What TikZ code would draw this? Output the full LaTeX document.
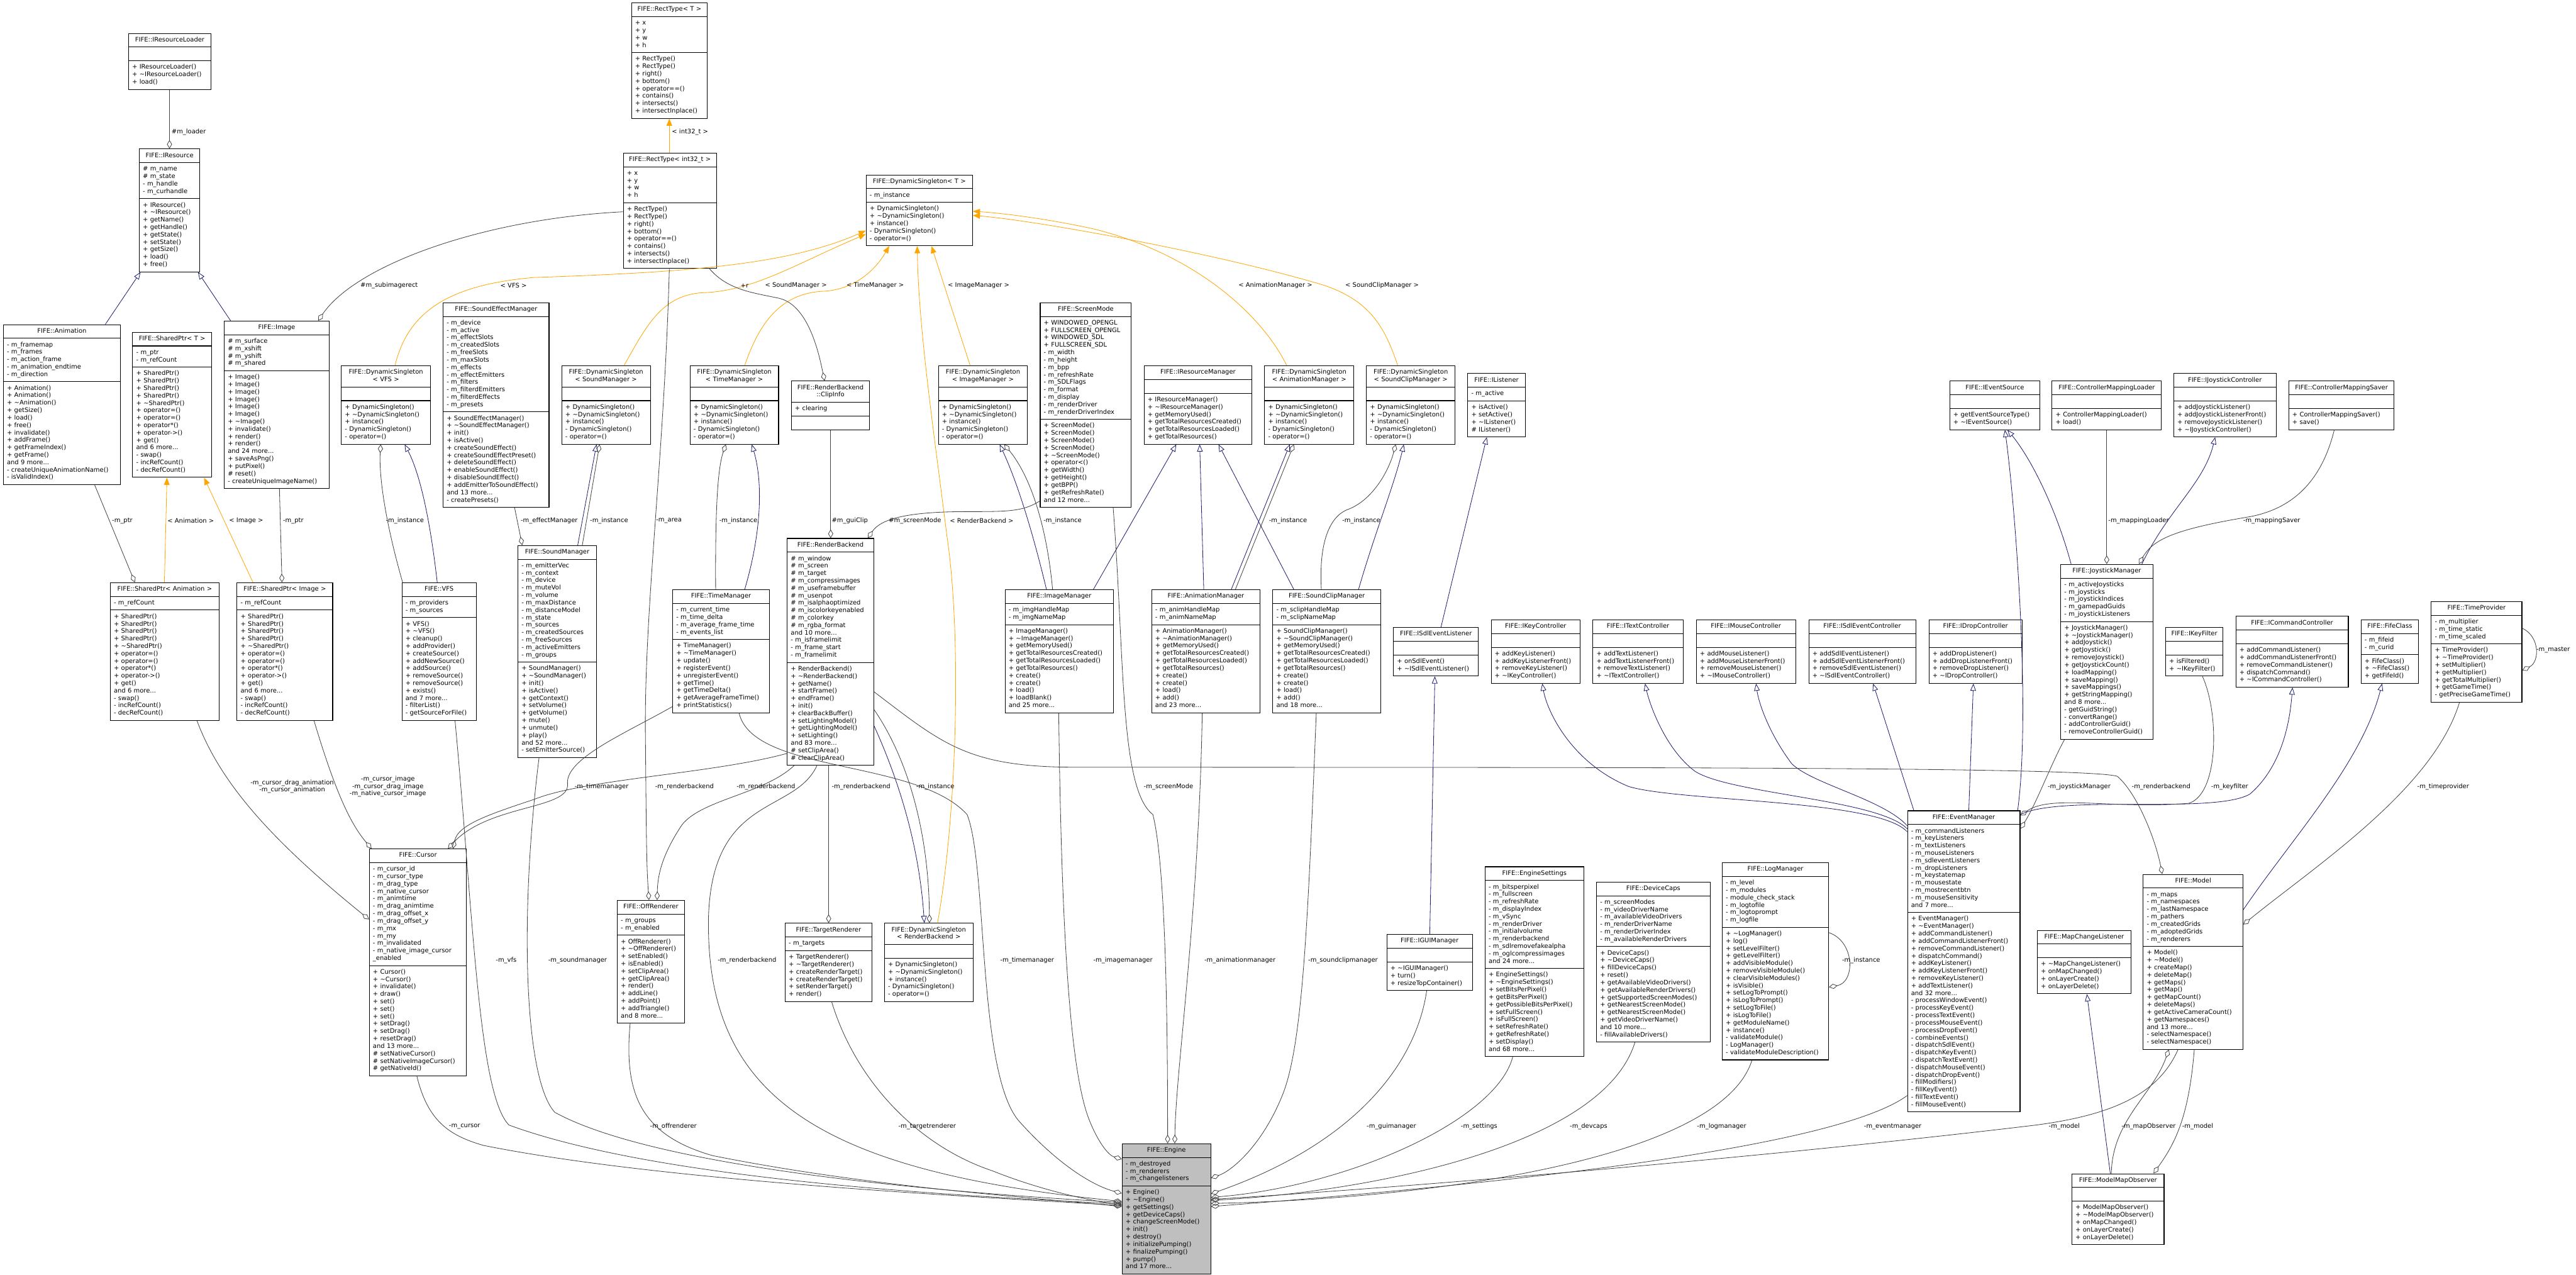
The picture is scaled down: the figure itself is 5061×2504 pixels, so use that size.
\documentclass[tikz,border=0pt]{standalone}
\usepackage{fontspec}
\setmainfont{DejaVu Sans}
\usetikzlibrary{arrows.meta,shapes.multipart}
\definecolor{inhblue}{HTML}{191970}
\definecolor{tplorange}{HTML}{FFA500}
\definecolor{memgray}{HTML}{404040}
\definecolor{enginegray}{HTML}{BFBFBF}
\newcommand{\umlfont}{\fontsize{12.3}{14.6}\selectfont}
\newcommand{\dtor}{\textasciitilde}
\newcommand{\umlparts}[3]{{\centering\strut#1\strut\par}\nodepart{second}\strut#2\strut\nodepart{third}\strut#3\strut}
\newcommand{\dsops}{+ DynamicSingleton()\\+ \dtor DynamicSingleton()\\+ instance()\\- DynamicSingleton()\\- operator=()}

\begin{document}
\begin{tikzpicture}[x=1pt, y=-1pt,
	umlclass/.style={draw=black, line width=1.3pt, fill=white, rectangle split, rectangle split parts=3, anchor=north west, inner xsep=7pt, inner ysep=5.5pt, align=left, font=\umlfont},
	inh/.style={draw=inhblue, line width=1pt, -{Triangle[open, length=14pt, width=11pt]}},
	tmpl/.style={draw=tplorange, line width=1pt, -{Triangle[length=14pt, width=11pt]}},
	mem/.style={draw=memgray, line width=1pt, -{Diamond[open, length=17pt, width=10pt]}},
	lbl/.style={font=\umlfont, inner sep=0pt, anchor=west}]
	\fill[white] (0,0) rectangle (5061,2504);
	\useasboundingbox (0,0) rectangle (5061,2504);
	% classes
	\node[umlclass, text width=148pt] (irl) at (252,65) {\umlparts{FIFE::IResourceLoader}{}{+ IResourceLoader()\\+ \dtor IResourceLoader()\\+ load()}};
	\node[umlclass, text width=105pt] (ires) at (273,292) {\umlparts{FIFE::IResource}{\# m\_name\\\# m\_state\\- m\_handle\\- m\_curhandle}{+ IResource()\\+ \dtor IResource()\\+ getName()\\+ getHandle()\\+ getState()\\+ setState()\\+ getSize()\\+ load()\\+ free()}};
	\node[umlclass, text width=135pt] (rectT) at (1240,5) {\umlparts{FIFE::RectType< T >}{+ x\\+ y\\+ w\\+ h}{+ RectType()\\+ RectType()\\+ right()\\+ bottom()\\+ operator==()\\+ contains()\\+ intersects()\\+ intersectInplace()}};
	\node[umlclass, text width=169pt] (rect32) at (1224,300) {\umlparts{FIFE::RectType< int32\_t >}{+ x\\+ y\\+ w\\+ h}{+ RectType()\\+ RectType()\\+ right()\\+ bottom()\\+ operator==()\\+ contains()\\+ intersects()\\+ intersectInplace()}};
	\node[umlclass, text width=195pt] (dsT) at (1701,343) {\umlparts{FIFE::DynamicSingleton< T >}{- m\_instance}{\dsops}};
	\node[umlclass, text width=216pt] (anim) at (6,637) {\umlparts{FIFE::Animation}{- m\_framemap\\- m\_frames\\- m\_action\_frame\\- m\_animation\_endtime\\- m\_direction}{+ Animation()\\+ Animation()\\+ \dtor Animation()\\+ getSize()\\+ load()\\+ free()\\+ invalidate()\\+ addFrame()\\+ getFrameIndex()\\+ getFrame()\\and 9 more...\\- createUniqueAnimationName()\\- isValidIndex()}};
	\node[umlclass, text width=141pt] (sptrT) at (260,652) {\umlparts{FIFE::SharedPtr< T >}{- m\_ptr\\- m\_refCount}{+ SharedPtr()\\+ SharedPtr()\\+ SharedPtr()\\+ SharedPtr()\\+ \dtor SharedPtr()\\+ operator=()\\+ operator=()\\+ operator*()\\+ operator->()\\+ get()\\and 6 more...\\- swap()\\- incRefCount()\\- decRefCount()}};
	\node[umlclass, text width=192pt] (image) at (440,630) {\umlparts{FIFE::Image}{\# m\_surface\\\# m\_xshift\\\# m\_yshift\\\# m\_shared}{+ Image()\\+ Image()\\+ Image()\\+ Image()\\+ Image()\\+ Image()\\+ \dtor Image()\\+ invalidate()\\+ render()\\+ render()\\and 24 more...\\+ saveAsPng()\\+ putPixel()\\\# reset()\\- createUniqueImageName()}};
	\node[umlclass, text width=161pt] (dsVFS) at (670,718) {\umlparts{FIFE::DynamicSingleton\\< VFS >}{}{\dsops}};
	\node[umlclass, text width=194pt] (sem) at (870,594) {\umlparts{FIFE::SoundEffectManager}{- m\_device\\- m\_active\\- m\_effectSlots\\- m\_createdSlots\\- m\_freeSlots\\- m\_maxSlots\\- m\_effects\\- m\_effectEmitters\\- m\_filters\\- m\_filterdEmitters\\- m\_filterdEffects\\- m\_presets}{+ SoundEffectManager()\\+ \dtor SoundEffectManager()\\+ init()\\+ isActive()\\+ createSoundEffect()\\+ createSoundEffectPreset()\\+ deleteSoundEffect()\\+ enableSoundEffect()\\+ disableSoundEffect()\\+ addEmitterToSoundEffect()\\and 13 more...\\- createPresets()}};
	\node[umlclass, text width=160pt] (dsSound) at (1103,718) {\umlparts{FIFE::DynamicSingleton\\< SoundManager >}{}{\dsops}};
	\node[umlclass, text width=160pt] (dsTime) at (1355,718) {\umlparts{FIFE::DynamicSingleton\\< TimeManager >}{}{\dsops}};
	\node[umlclass, text width=140pt] (clip) at (1554,748) {\umlparts{FIFE::RenderBackend\\::ClipInfo}{+ clearing}{}};
	\node[umlclass, text width=161pt] (dsImage) at (1843,718) {\umlparts{FIFE::DynamicSingleton\\< ImageManager >}{}{\dsops}};
	\node[umlclass, text width=165pt] (scrmode) at (2043,594) {\umlparts{FIFE::ScreenMode}{+ WINDOWED\_OPENGL\\+ FULLSCREEN\_OPENGL\\+ WINDOWED\_SDL\\+ FULLSCREEN\_SDL\\- m\_width\\- m\_height\\- m\_bpp\\- m\_refreshRate\\- m\_SDLFlags\\- m\_format\\- m\_display\\- m\_renderDriver\\- m\_renderDriverIndex}{+ ScreenMode()\\+ ScreenMode()\\+ ScreenMode()\\+ ScreenMode()\\+ \dtor ScreenMode()\\+ operator<()\\+ getWidth()\\+ getHeight()\\+ getBPP()\\+ getRefreshRate()\\and 12 more...}};
	\node[umlclass, text width=198pt] (irm) at (2247,718) {\umlparts{FIFE::IResourceManager}{}{+ IResourceManager()\\+ \dtor IResourceManager()\\+ getMemoryUsed()\\+ getTotalResourcesCreated()\\+ getTotalResourcesLoaded()\\+ getTotalResources()}};
	\node[umlclass, text width=161pt] (dsAnim) at (2484,718) {\umlparts{FIFE::DynamicSingleton\\< AnimationManager >}{}{\dsops}};
	\node[umlclass, text width=160pt] (dsClip) at (2684,718) {\umlparts{FIFE::DynamicSingleton\\< SoundClipManager >}{}{\dsops}};
	\node[umlclass, text width=99pt] (ilisten) at (2883,733) {\umlparts{FIFE::IListener}{- m\_active}{+ isActive()\\+ setActive()\\+ \dtor IListener()\\\# IListener()}};
	\node[umlclass, text width=163pt] (ievsrc) at (3830,748) {\umlparts{FIFE::IEventSource}{}{+ getEventSourceType()\\+ \dtor IEventSource()}};
	\node[umlclass, text width=201pt] (cmload) at (4031,748) {\umlparts{FIFE::ControllerMappingLoader}{}{+ ControllerMappingLoader()\\+ load()}};
	\node[umlclass, text width=187pt] (ijoy) at (4270,733) {\umlparts{FIFE::IJoystickController}{}{+ addJoystickListener()\\+ addJoystickListenerFront()\\+ removeJoystickListener()\\+ \dtor IJoystickController()}};
	\node[umlclass, text width=193pt] (cmsave) at (4496,748) {\umlparts{FIFE::ControllerMappingSaver}{}{+ ControllerMappingSaver()\\+ save()}};
	\node[umlclass, text width=200pt] (sptrAnim) at (216,1144) {\umlparts{FIFE::SharedPtr< Animation >}{- m\_refCount}{+ SharedPtr()\\+ SharedPtr()\\+ SharedPtr()\\+ SharedPtr()\\+ \dtor SharedPtr()\\+ operator=()\\+ operator=()\\+ operator*()\\+ operator->()\\+ get()\\and 6 more...\\- swap()\\- incRefCount()\\- decRefCount()}};
	\node[umlclass, text width=174pt] (sptrImg) at (465,1144) {\umlparts{FIFE::SharedPtr< Image >}{- m\_refCount}{+ SharedPtr()\\+ SharedPtr()\\+ SharedPtr()\\+ SharedPtr()\\+ \dtor SharedPtr()\\+ operator=()\\+ operator=()\\+ operator*()\\+ operator->()\\+ get()\\and 6 more...\\- swap()\\- incRefCount()\\- decRefCount()}};
	\node[umlclass, text width=132pt] (vfs) at (789,1144) {\umlparts{FIFE::VFS}{- m\_providers\\- m\_sources}{+ VFS()\\+ \dtor VFS()\\+ cleanup()\\+ addProvider()\\+ createSource()\\+ addNewSource()\\+ addSource()\\+ removeSource()\\+ removeSource()\\+ exists()\\and 7 more...\\- filterList()\\- getSourceForFile()}};
	\node[umlclass, text width=140pt] (soundmgr) at (1017,1071) {\umlparts{FIFE::SoundManager}{- m\_emitterVec\\- m\_context\\- m\_device\\- m\_muteVol\\- m\_volume\\- m\_maxDistance\\- m\_distanceModel\\- m\_state\\- m\_sources\\- m\_createdSources\\- m\_freeSources\\- m\_activeEmitters\\- m\_groups}{+ SoundManager()\\+ \dtor SoundManager()\\+ init()\\+ isActive()\\+ getContext()\\+ setVolume()\\+ getVolume()\\+ mute()\\+ unmute()\\+ play()\\and 52 more...\\- setEmitterSource()}};
	\node[umlclass, text width=176pt] (timemgr) at (1321,1158) {\umlparts{FIFE::TimeManager}{- m\_current\_time\\- m\_time\_delta\\- m\_average\_frame\_time\\- m\_events\_list}{+ TimeManager()\\+ \dtor TimeManager()\\+ update()\\+ registerEvent()\\+ unregisterEvent()\\+ getTime()\\+ getTimeDelta()\\+ getAverageFrameTime()\\+ printStatistics()}};
	\node[umlclass, text width=156pt] (rback) at (1546,1057) {\umlparts{FIFE::RenderBackend}{\# m\_window\\\# m\_screen\\\# m\_target\\\# m\_compressimages\\\# m\_useframebuffer\\\# m\_usenpot\\\# m\_isalphaoptimized\\\# m\_iscolorkeyenabled\\\# m\_colorkey\\\# m\_rgba\_format\\and 10 more...\\- m\_isframelimit\\- m\_frame\_start\\- m\_framelimit}{+ RenderBackend()\\+ \dtor RenderBackend()\\+ getName()\\+ startFrame()\\+ endFrame()\\+ init()\\+ clearBackBuffer()\\+ setLightingModel()\\+ getLightingModel()\\+ setLighting()\\and 83 more...\\\# setClipArea()\\\# clearClipArea()}};
	\node[umlclass, text width=199pt] (imgmgr) at (1974,1158) {\umlparts{FIFE::ImageManager}{- m\_imgHandleMap\\- m\_imgNameMap}{+ ImageManager()\\+ \dtor ImageManager()\\+ getMemoryUsed()\\+ getTotalResourcesCreated()\\+ getTotalResourcesLoaded()\\+ getTotalResources()\\+ create()\\+ create()\\+ load()\\+ loadBlank()\\and 25 more...}};
	\node[umlclass, text width=199pt] (animmgr) at (2262,1158) {\umlparts{FIFE::AnimationManager}{- m\_animHandleMap\\- m\_animNameMap}{+ AnimationManager()\\+ \dtor AnimationManager()\\+ getMemoryUsed()\\+ getTotalResourcesCreated()\\+ getTotalResourcesLoaded()\\+ getTotalResources()\\+ create()\\+ create()\\+ load()\\+ add()\\and 23 more...}};
	\node[umlclass, text width=198pt] (clipmgr) at (2500,1158) {\umlparts{FIFE::SoundClipManager}{- m\_sclipHandleMap\\- m\_sclipNameMap}{+ SoundClipManager()\\+ \dtor SoundClipManager()\\+ getMemoryUsed()\\+ getTotalResourcesCreated()\\+ getTotalResourcesLoaded()\\+ getTotalResources()\\+ create()\\+ create()\\+ load()\\+ add()\\and 18 more...}};
	\node[umlclass, text width=153pt] (sdllisten) at (2737,1232) {\umlparts{FIFE::ISdlEventListener}{}{+ onSdlEvent()\\+ \dtor ISdlEventListener()}};
	\node[umlclass, text width=161pt] (ikey) at (2929,1217) {\umlparts{FIFE::IKeyController}{}{+ addKeyListener()\\+ addKeyListenerFront()\\+ removeKeyListener()\\+ \dtor IKeyController()}};
	\node[umlclass, text width=163pt] (itext) at (3129,1217) {\umlparts{FIFE::ITextController}{}{+ addTextListener()\\+ addTextListenerFront()\\+ removeTextListener()\\+ \dtor ITextController()}};
	\node[umlclass, text width=181pt] (imouse) at (3332,1217) {\umlparts{FIFE::IMouseController}{}{+ addMouseListener()\\+ addMouseListenerFront()\\+ removeMouseListener()\\+ \dtor IMouseController()}};
	\node[umlclass, text width=196pt] (isdlctl) at (3553,1217) {\umlparts{FIFE::ISdlEventController}{}{+ addSdlEventListener()\\+ addSdlEventListenerFront()\\+ removeSdlEventListener()\\+ \dtor ISdlEventController()}};
	\node[umlclass, text width=169pt] (idrop) at (3789,1217) {\umlparts{FIFE::IDropController}{}{+ addDropListener()\\+ addDropListenerFront()\\+ removeDropListener()\\+ \dtor IDropController()}};
	\node[umlclass, text width=167pt] (joymgr) at (4048,1108) {\umlparts{FIFE::JoystickManager}{- m\_activeJoysticks\\- m\_joysticks\\- m\_joystickIndices\\- m\_gamepadGuids\\- m\_joystickListeners}{+ JoystickManager()\\+ \dtor JoystickManager()\\+ addJoystick()\\+ getJoystick()\\+ removeJoystick()\\+ getJoystickCount()\\+ loadMapping()\\+ saveMapping()\\+ saveMappings()\\+ getStringMapping()\\and 8 more...\\- getGuidString()\\- convertRange()\\- addControllerGuid()\\- removeControllerGuid()}};
	\node[umlclass, text width=99pt] (ikeyfilt) at (4254,1232) {\umlparts{FIFE::IKeyFilter}{}{+ isFiltered()\\+ \dtor IKeyFilter()}};
	\node[umlclass, text width=207pt] (icmd) at (4392,1210) {\umlparts{FIFE::ICommandController}{}{+ addCommandListener()\\+ addCommandListenerFront()\\+ removeCommandListener()\\+ dispatchCommand()\\+ \dtor ICommandController()}};
	\node[umlclass, text width=99pt] (fife) at (4638,1217) {\umlparts{FIFE::FifeClass}{- m\_fifeid\\- m\_curid}{+ FifeClass()\\+ \dtor FifeClass()\\+ getFifeId()}};
	\node[umlclass, text width=164pt] (timeprov) at (4776,1181) {\umlparts{FIFE::TimeProvider}{- m\_multiplier\\- m\_time\_static\\- m\_time\_scaled}{+ TimeProvider()\\+ \dtor TimeProvider()\\+ setMultiplier()\\+ getMultiplier()\\+ getTotalMultiplier()\\+ getGameTime()\\- getPreciseGameTime()}};
	\node[umlclass, text width=177pt] (cursor) at (725,1667) {\umlparts{FIFE::Cursor}{- m\_cursor\_id\\- m\_cursor\_type\\- m\_drag\_type\\- m\_native\_cursor\\- m\_animtime\\- m\_drag\_animtime\\- m\_drag\_offset\_x\\- m\_drag\_offset\_y\\- m\_mx\\- m\_my\\- m\_invalidated\\- m\_native\_image\_cursor\\\_enabled}{+ Cursor()\\+ \dtor Cursor()\\+ invalidate()\\+ draw()\\+ set()\\+ set()\\+ set()\\+ setDrag()\\+ setDrag()\\+ resetDrag()\\and 13 more...\\\# setNativeCursor()\\\# setNativeImageCursor()\\\# getNativeId()}};
	\node[umlclass, text width=118pt] (offr) at (1212,1768) {\umlparts{FIFE::OffRenderer}{- m\_groups\\- m\_enabled}{+ OffRenderer()\\+ \dtor OffRenderer()\\+ setEnabled()\\+ isEnabled()\\+ setClipArea()\\+ getClipArea()\\+ render()\\+ addLine()\\+ addPoint()\\+ addTriangle()\\and 8 more...}};
	\node[umlclass, text width=156pt] (targetr) at (1542,1813) {\umlparts{FIFE::TargetRenderer}{- m\_targets}{+ TargetRenderer()\\+ \dtor TargetRenderer()\\+ createRenderTarget()\\+ createRenderTarget()\\+ setRenderTarget()\\+ render()}};
	\node[umlclass, text width=160pt] (dsRB) at (1737,1813) {\umlparts{FIFE::DynamicSingleton\\< RenderBackend >}{}{\dsops}};
	\node[umlclass, text width=160pt, fill=enginegray] (engine) at (2204,2246) {\umlparts{FIFE::Engine}{- m\_destroyed\\- m\_renderers\\- m\_changelisteners}{+ Engine()\\+ \dtor Engine()\\+ getSettings()\\+ getDeviceCaps()\\+ changeScreenMode()\\+ init()\\+ destroy()\\+ initializePumping()\\+ finalizePumping()\\+ pump()\\and 17 more...}};
	\node[umlclass, text width=154pt] (igui) at (2724,1835) {\umlparts{FIFE::IGUIManager}{}{+ \dtor IGUIManager()\\+ turn()\\+ resizeTopContainer()}};
	\node[umlclass, text width=180pt] (settings) at (2917,1702) {\umlparts{FIFE::EngineSettings}{- m\_bitsperpixel\\- m\_fullscreen\\- m\_refreshRate\\- m\_displayIndex\\- m\_vSync\\- m\_renderDriver\\- m\_initialvolume\\- m\_renderbackend\\- m\_sdlremovefakealpha\\- m\_oglcompressimages\\and 24 more...}{+ EngineSettings()\\+ \dtor EngineSettings()\\+ setBitsPerPixel()\\+ getBitsPerPixel()\\+ getPossibleBitsPerPixel()\\+ setFullScreen()\\+ isFullScreen()\\+ setRefreshRate()\\+ getRefreshRate()\\+ setDisplay()\\and 68 more...}};
	\node[umlclass, text width=209pt] (devcaps) at (3136,1732) {\umlparts{FIFE::DeviceCaps}{- m\_screenModes\\- m\_videoDriverName\\- m\_availableVideoDrivers\\- m\_renderDriverName\\- m\_renderDriverIndex\\- m\_availableRenderDrivers}{+ DeviceCaps()\\+ \dtor DeviceCaps()\\+ fillDeviceCaps()\\+ reset()\\+ getAvailableVideoDrivers()\\+ getAvailableRenderDrivers()\\+ getSupportedScreenModes()\\+ getNearestScreenMode()\\+ getNearestScreenMode()\\+ getVideoDriverName()\\and 10 more...\\- fillAvailableDrivers()}};
	\node[umlclass, text width=195pt] (logmgr) at (3383,1694) {\umlparts{FIFE::LogManager}{- m\_level\\- m\_modules\\- module\_check\_stack\\- m\_logtofile\\- m\_logtoprompt\\- m\_logfile}{+ \dtor LogManager()\\+ log()\\+ setLevelFilter()\\+ getLevelFilter()\\+ addVisibleModule()\\+ removeVisibleModule()\\+ clearVisibleModules()\\+ isVisible()\\+ setLogToPrompt()\\+ isLogToPrompt()\\+ setLogToFile()\\+ isLogToFile()\\+ getModuleName()\\+ instance()\\- validateModule()\\- LogManager()\\- validateModuleDescription()}};
	\node[umlclass, text width=207pt] (eventmgr) at (3747,1592) {\umlparts{FIFE::EventManager}{- m\_commandListeners\\- m\_keyListeners\\- m\_textListeners\\- m\_mouseListeners\\- m\_sdleventListeners\\- m\_dropListeners\\- m\_keystatemap\\- m\_mousestate\\- m\_mostrecentbtn\\- m\_mouseSensitivity\\and 7 more...}{+ EventManager()\\+ \dtor EventManager()\\+ addCommandListener()\\+ addCommandListenerFront()\\+ removeCommandListener()\\+ dispatchCommand()\\+ addKeyListener()\\+ addKeyListenerFront()\\+ removeKeyListener()\\+ addTextListener()\\and 32 more...\\- processWindowEvent()\\- processKeyEvent()\\- processTextEvent()\\- processMouseEvent()\\- processDropEvent()\\- combineEvents()\\- dispatchSdlEvent()\\- dispatchKeyEvent()\\- dispatchTextEvent()\\- dispatchMouseEvent()\\- dispatchDropEvent()\\- fillModifiers()\\- fillKeyEvent()\\- fillTextEvent()\\- fillMouseEvent()}};
	\node[umlclass, text width=170pt] (mapchg) at (4002,1827) {\umlparts{FIFE::MapChangeListener}{}{+ \dtor MapChangeListener()\\+ onMapChanged()\\+ onLayerCreate()\\+ onLayerDelete()}};
	\node[umlclass, text width=182pt] (model) at (4210,1717) {\umlparts{FIFE::Model}{- m\_maps\\- m\_namespaces\\- m\_lastNamespace\\- m\_pathers\\- m\_createdGrids\\- m\_adoptedGrids\\- m\_renderers}{+ Model()\\+ \dtor Model()\\+ createMap()\\+ deleteMap()\\+ getMaps()\\+ getMap()\\+ getMapCount()\\+ deleteMaps()\\+ getActiveCameraCount()\\+ getNamespaces()\\and 13 more...\\- selectNamespace()\\- selectNamespace()}};
	\node[umlclass, text width=167pt] (mmobs) at (4070,2305) {\umlparts{FIFE::ModelMapObserver}{}{+ ModelMapObserver()\\+ \dtor ModelMapObserver()\\+ onMapChanged()\\+ onLayerCreate()\\+ onLayerDelete()}};
	% inheritance
	\draw[inh] (207,0 |- anim.north) -- (276,0 |- ires.south);
	\draw[inh] (453,0 |- image.north) -- (389,0 |- ires.south);
	\draw[inh] (859,0 |- vfs.north) .. controls (845,1020) and (825,930) .. (795,0 |- dsVFS.south);
	\draw[inh] (1135,0 |- soundmgr.north) -- (1172,0 |- dsSound.south);
	\draw[inh] (1463,0 |- timemgr.north) .. controls (1495,1050) and (1500,950) .. (1477,0 |- dsTime.south);
	\draw[inh] (2056,0 |- imgmgr.north) .. controls (2030,1050) and (2000,950) .. (1964,0 |- dsImage.south);
	\draw[inh] (2148,0 |- imgmgr.north) -- (2311,0 |- irm.south);
	\draw[inh] (2365,0 |- animmgr.north) -- (2357,0 |- irm.south);
	\draw[inh] (2542,0 |- clipmgr.north) -- (2394,0 |- irm.south);
	\draw[inh] (2419,0 |- animmgr.north) -- (2534,0 |- dsAnim.south);
	\draw[inh] (2669,0 |- clipmgr.north) .. controls (2700,1050) and (2740,950) .. (2758,0 |- dsClip.south);
	\draw[inh] (2831,0 |- sdllisten.north) -- (2921,0 |- ilisten.south);
	\draw[inh] (2809,0 |- igui.north) -- (2819,0 |- sdllisten.south);
	\draw[inh] (rback.east |- 0,1426) .. controls (1760,1520) and (1805,1650) .. (1816,0 |- dsRB.north);
	\draw[inh] (eventmgr.west |- 0,1634) .. controls (3690,1570) and (3300,1575) .. (3200,1545) .. controls (3090,1500) and (3040,1400) .. (3030,0 |- ikey.south);
	\draw[inh] (eventmgr.west |- 0,1628) .. controls (3690,1570) and (3400,1560) .. (3330,1515) .. controls (3270,1470) and (3240,1380) .. (3232,0 |- itext.south);
	\draw[inh] (eventmgr.west |- 0,1622) .. controls (3700,1570) and (3560,1540) .. (3520,1500) .. controls (3475,1440) and (3455,1380) .. (3450,0 |- imouse.south);
	\draw[inh] (3760,0 |- eventmgr.north) -- (3680,0 |- isdlctl.south);
	\draw[inh] (3868,0 |- eventmgr.north) -- (3877,0 |- idrop.south);
	\draw[inh] (3964,0 |- eventmgr.north) .. controls (3990,1400) and (3960,1000) .. (3939,0 |- ievsrc.south);
	\draw[inh] (eventmgr.east |- 0,1600) .. controls (4050,1560) and (4350,1600) .. (4420,1560) .. controls (4490,1500) and (4500,1400) .. (4504,0 |- icmd.south);
	\draw[inh] (4069,0 |- joymgr.north) .. controls (4040,1000) and (3990,900) .. (3944,0 |- ievsrc.south);
	\draw[inh] (4208,0 |- joymgr.north) .. controls (4260,1000) and (4330,950) .. (4352,0 |- ijoy.south);
	\draw[inh] (model.east |- 0,1787) .. controls (4500,1650) and (4640,1500) .. (4680,0 |- fife.south);
	\draw[inh] (4146,0 |- mmobs.north) -- (4100,0 |- mapchg.south);
	% templates
	\draw[tmpl] (1315,0 |- rect32.north) -- (1315,0 |- rectT.south);
	\draw[tmpl] (323,0 |- sptrAnim.north) -- (328,0 |- sptrT.south);
	\draw[tmpl] (497,0 |- sptrImg.north) -- (401,0 |- sptrT.south);
	\draw[tmpl] (776,0 |- dsVFS.north) .. controls (800,620) and (870,560) .. (1050,545) .. controls (1350,535) and (1550,520) .. (dsT.west |- 0,453);
	\draw[tmpl] (1226,0 |- dsSound.north) .. controls (1270,640) and (1300,580) .. (1380,575) .. controls (1480,572) and (1560,520) .. (dsT.west |- 0,460);
	\draw[tmpl] (1463,0 |- dsTime.north) .. controls (1490,640) and (1530,575) .. (1620,572) .. controls (1680,568) and (1720,530) .. (1747,0 |- dsT.south);
	\draw[tmpl] (1842,0 |- dsRB.north) .. controls (1880,1600) and (1890,1250) .. (1860,1050) .. controls (1835,850) and (1805,650) .. (1802,0 |- dsT.south);
	\draw[tmpl] (1906,0 |- dsImage.north) -- (1830,0 |- dsT.south);
	\draw[tmpl] (2528,0 |- dsAnim.north) .. controls (2480,620) and (2350,500) .. (2150,450) .. controls (2050,428) and (1960,418) .. (dsT.east |- 0,415);
	\draw[tmpl] (2746,0 |- dsClip.north) .. controls (2720,640) and (2690,590) .. (2600,560) .. controls (2400,500) and (2050,435) .. (dsT.east |- 0,423);
	% members
	\draw[mem] (333,0 |- irl.south) -- (333,0 |- ires.north);
	\draw[mem] (rect32.west |- 0,416) .. controls (950,430) and (700,520) .. (625,0 |- image.north);
	\draw[mem] (1394,0 |- rect32.south) .. controls (1430,570) and (1480,575) .. (1531,586) .. controls (1590,600) and (1610,700) .. (1620,0 |- clip.north);
	\draw[mem] (1315,0 |- rect32.south) .. controls (1305,900) and (1265,1200) .. (1268,1450) .. controls (1270,1650) and (1270,1700) .. (1275,0 |- offr.north);
	\draw[mem] (1632,0 |- clip.south) -- (1632,0 |- rback.north);
	\draw[mem] (scrmode.west |- 0,984) .. controls (2010,1005) and (1980,1005) .. (1900,1005) .. controls (1780,1005) and (1730,1020) .. (1705,0 |- rback.north);
	\draw[mem] (791,0 |- vfs.north) .. controls (750,1000) and (745,920) .. (748,0 |- dsVFS.south);
	\draw[mem] (1011,0 |- sem.south) -- (1026,0 |- soundmgr.north);
	\draw[mem] (1144,0 |- soundmgr.north) -- (1178,0 |- dsSound.south);
	\draw[mem] (1406,0 |- timemgr.north) .. controls (1405,1000) and (1410,920) .. (1426,0 |- dsTime.south);
	\draw[mem] (2068,0 |- imgmgr.north) .. controls (2055,1020) and (2020,930) .. (1973,0 |- dsImage.south);
	\draw[mem] (2427,0 |- animmgr.north) -- (2542,0 |- dsAnim.south);
	\draw[mem] (2596,0 |- clipmgr.north) .. controls (2590,1050) and (2620,1010) .. (2650,1000) .. controls (2700,980) and (2730,920) .. (2742,0 |- dsClip.south);
	\draw[mem] (186,0 |- anim.south) -- (265,0 |- sptrAnim.north);
	\draw[mem] (549,0 |- image.south) -- (554,0 |- sptrImg.north);
	\draw[mem] (387,0 |- sptrAnim.south) .. controls (430,1530) and (520,1640) .. (cursor.west |- 0,1806);
	\draw[mem] (617,0 |- sptrImg.south) .. controls (660,1560) and (690,1620) .. (730,0 |- cursor.north);
	\draw[mem] (timemgr.west |- 0,1388) .. controls (1230,1440) and (1110,1490) .. (1115,1540) .. controls (1120,1590) and (960,1580) .. (880,0 |- cursor.north);
	\draw[mem] (rback.west |- 0,1480) .. controls (1400,1520) and (1150,1530) .. (1050,1570) .. controls (960,1600) and (900,1620) .. (890,0 |- cursor.north);
	\draw[mem] (1560,0 |- rback.south) .. controls (1500,1560) and (1380,1570) .. (1340,1620) .. controls (1300,1680) and (1292,1720) .. (1291,0 |- offr.north);
	\draw[mem] (1628,0 |- rback.south) -- (1628,0 |- targetr.north);
	\draw[mem] (rback.east |- 0,1394) .. controls (1790,1500) and (1825,1650) .. (1826,0 |- dsRB.north);
	\draw[mem] (rback.east |- 0,1359) .. controls (1850,1460) and (1900,1505) .. (2100,1507) .. controls (3000,1508) and (4100,1505) .. (4160,1525) .. controls (4200,1560) and (4235,1650) .. (4248,0 |- model.north);
	\draw[mem] (894,0 |- vfs.south) .. controls (930,1800) and (940,2150) .. (1000,2210) .. controls (1300,2320) and (1900,2350) .. (engine.west |- 0,2365);
	\draw[mem] (1059,0 |- soundmgr.south) .. controls (1020,1800) and (1030,2120) .. (1090,2185) .. controls (1300,2300) and (1900,2345) .. (engine.west |- 0,2362);
	\draw[mem] (819,0 |- cursor.south) .. controls (840,2200) and (880,2230) .. (950,2250) .. controls (1300,2320) and (1900,2350) .. (engine.west |- 0,2368);
	\draw[mem] (1238,0 |- offr.south) .. controls (1225,2150) and (1260,2230) .. (1400,2270) .. controls (1700,2330) and (2000,2350) .. (engine.west |- 0,2370);
	\draw[mem] (1634,0 |- targetr.south) .. controls (1680,2120) and (1800,2250) .. (1950,2300) .. controls (2050,2340) and (2150,2360) .. (engine.west |- 0,2366);
	\draw[mem] (1605,0 |- rback.south) .. controls (1560,1600) and (1400,1560) .. (1392,1800) .. controls (1385,2150) and (1600,2300) .. (engine.west |- 0,2360);
	\draw[mem] (1452,0 |- timemgr.south) .. controls (1480,1520) and (1800,1490) .. (1900,1600) .. controls (1940,1700) and (1920,2100) .. (2000,2200) .. controls (2080,2290) and (2150,2330) .. (engine.west |- 0,2344);
	\draw[mem] (2080,0 |- imgmgr.south) .. controls (2085,1800) and (2100,2100) .. (2140,2200) .. controls (2160,2250) and (2180,2270) .. (engine.west |- 0,2277);
	\draw[mem] (2187,0 |- scrmode.south) .. controls (2210,1300) and (2200,1550) .. (2265,1600) .. controls (2290,1700) and (2294,2000) .. (2294,0 |- engine.north);
	\draw[mem] (2362,0 |- animmgr.south) .. controls (2355,1800) and (2310,2100) .. (2308,0 |- engine.north);
	\draw[mem] (2586,0 |- clipmgr.south) .. controls (2570,1800) and (2560,2050) .. (2520,2150) .. controls (2480,2250) and (2420,2300) .. (engine.east |- 0,2314);
	\draw[mem] (2803,0 |- igui.south) .. controls (2780,2100) and (2650,2250) .. (engine.east |- 0,2345);
	\draw[mem] (2972,0 |- settings.south) .. controls (2940,2200) and (2650,2330) .. (engine.east |- 0,2352);
	\draw[mem] (3212,0 |- devcaps.south) .. controls (3150,2250) and (2700,2340) .. (engine.east |- 0,2358);
	\draw[mem] (3442,0 |- logmgr.south) .. controls (3380,2280) and (2800,2355) .. (engine.east |- 0,2364);
	\draw[mem] (eventmgr.west |- 0,2152) .. controls (3600,2260) and (2900,2330) .. (engine.east |- 0,2370);
	\draw[mem] (4279,0 |- model.south) .. controls (4240,2150) and (4150,2190) .. (4000,2210) .. controls (3500,2270) and (2800,2330) .. (engine.east |- 0,2356);
	\draw[mem] (4148,0 |- mmobs.north) .. controls (4150,2200) and (4230,2150) .. (4261,0 |- model.south);
	\draw[mem] (4311,0 |- model.south) .. controls (4300,2200) and (4270,2250) .. (4231,0 |- mmobs.north);
	\draw[mem] (logmgr.east |- 0,1832) .. controls (3645,1850) and (3645,1930) .. (logmgr.east |- 0,1939);
	\draw[mem] (4327,0 |- ikeyfilt.south) .. controls (4360,1400) and (4360,1560) .. (4300,1578) .. controls (4150,1590) and (4030,1560) .. (eventmgr.east |- 0,1602);
	\draw[mem] (4056,0 |- joymgr.south) .. controls (4030,1500) and (4000,1580) .. (eventmgr.east |- 0,1628);
	\draw[mem] (4139,0 |- cmload.south) -- (4139,0 |- joymgr.north);
	\draw[mem] (4586,0 |- cmsave.south) .. controls (4560,950) and (4500,1000) .. (4420,1015) .. controls (4270,1040) and (4230,1060) .. (4202,0 |- joymgr.north);
	\draw[mem] (4832,0 |- timeprov.south) .. controls (4780,1550) and (4550,1700) .. (model.east |- 0,1816);
	\draw[mem] (timeprov.east |- 0,1234) .. controls (4990,1250) and (4990,1300) .. (timeprov.east |- 0,1317);
	% labels
	\node[lbl] (l-loader) at (337,259) {\#m\_loader};
	\node[lbl] (l-int32) at (1320,259) {< int32\_t >};
	\node[lbl] (l-subrect) at (708,561) {\#m\_subimagerect};
	\node[lbl] (l-vfs) at (983,561) {< VFS >};
	\node[lbl] (l-r) at (1455,561) {+r};
	\node[lbl] (l-snd) at (1503,561) {< SoundManager >};
	\node[lbl] (l-time) at (1663,561) {< TimeManager >};
	\node[lbl] (l-img) at (1862,561) {< ImageManager >};
	\node[lbl] (l-anim) at (2433,561) {< AnimationManager >};
	\node[lbl] (l-clip) at (2643,561) {< SoundClipManager >};
	\node[lbl] (l-ptra) at (220,1023) {-m\_ptr};
	\node[lbl] (l-tanim) at (329,1023) {< Animation >};
	\node[lbl] (l-timg) at (450,1023) {< Image >};
	\node[lbl] (l-ptri) at (556,1023) {-m\_ptr};
	\node[lbl] (l-inst1) at (758,1023) {-m\_instance};
	\node[lbl] (l-effect) at (1023,1023) {-m\_effectManager};
	\node[lbl] (l-inst2) at (1159,1023) {-m\_instance};
	\node[lbl] (l-area) at (1289,1023) {-m\_area};
	\node[lbl] (l-inst3) at (1413,1023) {-m\_instance};
	\node[lbl] (l-guiclip) at (1634,1023) {\#m\_guiClip};
	\node[lbl] (l-scr1) at (1746,1023) {\#m\_screenMode};
	\node[lbl] (l-rb) at (1866,1023) {< RenderBackend >};
	\node[lbl] (l-inst4) at (2050,1023) {-m\_instance};
	\node[lbl] (l-inst5) at (2493,1023) {-m\_instance};
	\node[lbl] (l-inst6) at (2637,1023) {-m\_instance};
	\node[lbl] (l-maploader) at (4142,1023) {-m\_mappingLoader};
	\node[lbl] (l-mapsaver) at (4407,1023) {-m\_mappingSaver};
	\node[lbl] (l-master) at (4983,1277) {-m\_master};
	\node[font=\umlfont, inner sep=0pt, align=center] (l-curanim) at (574,1545) {-m\_cursor\_drag\_animation\\-m\_cursor\_animation};
	\node[font=\umlfont, inner sep=0pt, align=center] (l-curimg) at (762,1545) {-m\_cursor\_image\\-m\_cursor\_drag\_image\\-m\_native\_cursor\_image};
	\node[lbl] (l-tm1) at (1129,1545) {-m\_timemanager};
	\node[lbl] (l-rb1) at (1287,1545) {-m\_renderbackend};
	\node[lbl] (l-rb2) at (1447,1545) {-m\_renderbackend};
	\node[lbl] (l-rb3) at (1634,1545) {-m\_renderbackend};
	\node[lbl] (l-inst7) at (1800,1545) {-m\_instance};
	\node[lbl] (l-scr2) at (2247,1545) {-m\_screenMode};
	\node[lbl] (l-joy) at (4023,1545) {-m\_joystickManager};
	\node[lbl] (l-rb4) at (4188,1545) {-m\_renderbackend};
	\node[lbl] (l-keyf) at (4344,1545) {-m\_keyfilter};
	\node[lbl] (l-tprov) at (4749,1545) {-m\_timeprovider};
	\node[lbl] (l-vfs2) at (974,1887) {-m\_vfs};
	\node[lbl] (l-sndmgr) at (1077,1887) {-m\_soundmanager};
	\node[lbl] (l-rb5) at (1410,1887) {-m\_renderbackend};
	\node[lbl] (l-tm2) at (1965,1887) {-m\_timemanager};
	\node[lbl] (l-imgmgr) at (2148,1887) {-m\_imagemanager};
	\node[lbl] (l-animmgr) at (2366,1887) {-m\_animationmanager};
	\node[lbl] (l-clipmgr) at (2570,1887) {-m\_soundclipmanager};
	\node[lbl] (l-inst8) at (3619,1887) {-m\_instance};
	\node[lbl] (l-cursor) at (882,2213) {-m\_cursor};
	\node[lbl] (l-offr) at (1277,2213) {-m\_offrenderer};
	\node[lbl] (l-targetr) at (1765,2213) {-m\_targetrenderer};
	\node[lbl] (l-gui) at (2685,2213) {-m\_guimanager};
	\node[lbl] (l-settings) at (2870,2213) {-m\_settings};
	\node[lbl] (l-devcaps) at (3084,2213) {-m\_devcaps};
	\node[lbl] (l-logmgr) at (3334,2213) {-m\_logmanager};
	\node[lbl] (l-evmgr) at (3662,2213) {-m\_eventmanager};
	\node[lbl] (l-model1) at (4025,2213) {-m\_model};
	\node[lbl] (l-mapobs) at (4168,2213) {-m\_mapObserver};
	\node[lbl] (l-model2) at (4287,2213) {-m\_model};
\end{tikzpicture}
\end{document}
